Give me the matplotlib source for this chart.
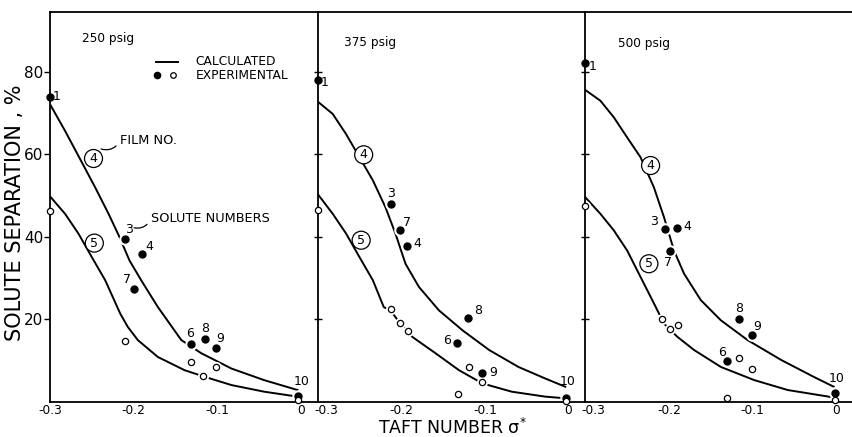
import numpy as np
import matplotlib
matplotlib.use('Agg')
import matplotlib.pyplot as plt

plt.rcParams['font.family'] = 'DejaVu Sans'

pressures = ['250 psig', '375 psig', '500 psig']
solutes = ['1', '3', '4', '7', '6', '8', '9', '10']

# taft numbers of the solutes, per panel (as plotted)
taft_250 = [-0.300, -0.210, -0.190, -0.200, -0.132, -0.115, -0.102, -0.003]
taft_375 = [-0.300, -0.212, -0.193, -0.201, -0.134, -0.120, -0.104, -0.003]
taft_500 = [-0.300, -0.205, -0.190, -0.199, -0.131, -0.116, -0.101, -0.001]

# experimental separation, film 4 (filled)
sep4_250 = [73.8, 39.4, 35.9, 27.5, 14.0, 15.2, 13.1, 1.5]
sep4_375 = [78.0, 47.9, 37.8, 41.7, 14.2, 20.4, 7.1, 0.9]
sep4_500 = [82.2, 41.8, 42.2, 36.6, 9.9, 20.0, 16.2, 2.3]

# experimental separation, film 5 (open)
x5_250 = [-0.300, -0.210, -0.132, -0.117, -0.102, -0.003]
y5_250 = [46.2, 14.7, 9.7, 6.3, 8.6, 0.5]
x5_375 = [-0.300, -0.212, -0.202, -0.192, -0.119, -0.104, -0.132, -0.003]
y5_375 = [46.6, 22.5, 19.2, 17.2, 8.5, 4.8, 1.9, 0.3]
x5_500 = [-0.300, -0.208, -0.199, -0.189, -0.116, -0.101, -0.131, -0.001]
y5_500 = [47.6, 20.0, 17.6, 18.6, 10.6, 8.1, 1.0, 0.5]

# calculated curves, film 4 and film 5
cx4_250 = [-0.299, -0.282, -0.262, -0.246, -0.230, -0.217, -0.205, -0.191, -0.171, -0.143, -0.119, -0.083, -0.044, -0.004]
cy4_250 = [71.8, 65.7, 58.1, 52.0, 45.6, 40.0, 34.3, 29.5, 23.0, 15.0, 11.8, 8.1, 5.3, 2.9]
cx5_250 = [-0.299, -0.282, -0.266, -0.250, -0.234, -0.224, -0.216, -0.207, -0.195, -0.171, -0.139, -0.115, -0.083, -0.044, -0.004]
cy5_250 = [49.6, 45.6, 40.8, 35.1, 29.5, 25.0, 21.4, 18.2, 15.0, 10.9, 7.7, 6.1, 4.1, 2.5, 1.3]

cx4_375 = [-0.300, -0.282, -0.266, -0.250, -0.234, -0.219, -0.207, -0.195, -0.179, -0.155, -0.127, -0.095, -0.060, -0.028, -0.004]
cy4_375 = [72.8, 69.8, 64.9, 59.3, 53.7, 47.2, 40.8, 33.5, 27.9, 22.2, 17.4, 12.6, 8.5, 5.7, 3.7]
cx5_375 = [-0.300, -0.282, -0.266, -0.250, -0.234, -0.221, -0.213, -0.202, -0.192, -0.187, -0.159, -0.131, -0.103, -0.068, -0.028, -0.004]
cy5_375 = [50.4, 45.6, 40.8, 35.1, 29.5, 23.0, 22.2, 19.2, 17.2, 15.8, 11.8, 7.7, 4.5, 2.5, 1.3, 0.9]

cx4_500 = [-0.300, -0.282, -0.266, -0.250, -0.234, -0.218, -0.206, -0.194, -0.182, -0.162, -0.138, -0.106, -0.066, -0.027, -0.003]
cy4_500 = [75.6, 73.0, 69.0, 64.1, 59.3, 52.0, 44.8, 36.7, 31.1, 24.7, 19.8, 15.0, 10.2, 6.1, 3.7]
cx5_500 = [-0.300, -0.282, -0.266, -0.250, -0.234, -0.218, -0.206, -0.190, -0.170, -0.138, -0.098, -0.058, -0.003]
cy5_500 = [49.6, 45.6, 41.6, 36.7, 30.3, 23.9, 19.0, 15.8, 12.6, 8.5, 5.3, 2.9, 1.1]

# offsets (points) for the solute number labels
lab_off_250 = [(4.5, 1), (3, 7), (5, 5), (-4.5, 6.5), (0, 7.5), (0, 7.5), (3, 7), (2, 10)]
lab_off_375 = [(5, -2), (0, 8), (7, 1.5), (5, 5.5), (-7, 2), (7, 5.5), (8, 0), (1, 12)]
lab_off_500 = [(5.5, -2.5), (-8, 5.5), (7.5, 1), (-1.5, -8), (-3, 6.5), (0, 8), (4, 6.5), (1, 10)]

circ4 = [(-0.248, 59.0), (-0.245, 59.9), (-0.222, 57.3)]
circ5 = [(-0.247, 38.5), (-0.248, 39.2), (-0.224, 33.5)]
title_pos = [(-0.262, 88.0), (-0.268, 87.1), (-0.261, 86.8)]

xtick_vals = [-0.3, -0.2, -0.1, 0]
xtick_text = ['-0.3', '-0.2', '-0.1', '0']
ytick_vals = [20, 40, 60, 80]

taft = [taft_250, taft_375, taft_500]
sep4 = [sep4_250, sep4_375, sep4_500]
x5 = [x5_250, x5_375, x5_500]
y5 = [y5_250, y5_375, y5_500]
cx4 = [cx4_250, cx4_375, cx4_500]
cy4 = [cy4_250, cy4_375, cy4_500]
cx5 = [cx5_250, cx5_375, cx5_500]
cy5 = [cy5_250, cy5_375, cy5_500]
lab_off = [lab_off_250, lab_off_375, lab_off_500]

fig = plt.figure(figsize=(8.53, 4.37), dpi=100)
gs = fig.add_gridspec(1, 3, left=50/853, right=1.0, top=1-12/437, bottom=1-402/437, wspace=0)
axes = [fig.add_subplot(gs[0, i]) for i in range(3)]

for i, ax in enumerate(axes):
    ax.plot(cx4[i], cy4[i], '-', color='black', linewidth=1.4, zorder=1)
    ax.plot(cx5[i], cy5[i], '-', color='black', linewidth=1.4, zorder=1)
    # white halos so the curves break around the points
    ax.plot(taft[i], sep4[i], 'o', color='white', markersize=8, zorder=2)
    ax.plot(x5[i], y5[i], 'o', color='white', markersize=7, zorder=2)
    ax.plot(taft[i], sep4[i], 'o', color='black', markersize=5, clip_on=False, zorder=3)
    ax.plot(x5[i], y5[i], 'o', markerfacecolor='white', markeredgecolor='black',
            markersize=4.5, markeredgewidth=0.9, clip_on=False, zorder=3)
    for j, s in enumerate(solutes):
        ax.annotate(s, (taft[i][j], sep4[i][j]), xytext=lab_off[i][j], textcoords='offset points',
                    ha='center', va='center', fontsize=9)
    for (cx, cy), num in [(circ4[i], '4'), (circ5[i], '5')]:
        ax.text(cx, cy, num, ha='center', va='center', fontsize=9, zorder=4,
                bbox=dict(boxstyle='circle,pad=0.2', facecolor='white', edgecolor='black', linewidth=0.9))
    ax.text(title_pos[i][0], title_pos[i][1], pressures[i], fontsize=8.7, ha='left', va='center')

    ax.set_xlim(-0.3, 0.02)
    ax.set_ylim(0, 94.5)
    ax.set_xticks(xtick_vals)
    ax.set_yticks(ytick_vals)
    ax.tick_params(axis='x', length=0, pad=1.5)
    ax.spines['right'].set_visible(False)
    for sp in ax.spines.values():
        sp.set_linewidth(1.3)
    if i == 0:
        ax.set_xticklabels(xtick_text, fontsize=8.8)
        ax.set_yticklabels([str(v) for v in ytick_vals], fontsize=11)
        ax.tick_params(axis='y', direction='out', length=4, width=1.0, pad=1)
    else:
        # "-0.3" sits a little right of the shared spine so it clears the "0"
        ax.set_xticklabels([''] + xtick_text[1:], fontsize=8.8)
        ax.annotate(xtick_text[0], xy=(xtick_vals[0], 0), xycoords=('data', 'axes fraction'),
                    xytext=(6, -1.5), textcoords='offset points', ha='center', va='top', fontsize=8.8)
        ax.tick_params(axis='y', direction='inout', length=6, width=1.0, labelleft=False)

ax = axes[0]
# legend drawn by hand
ax.plot([-0.1737, -0.1475], [82.4, 82.4], '-', color='black', linewidth=1.4)
ax.plot([-0.172], [79.2], 'o', color='black', markersize=4.5)
ax.plot([-0.153], [79.2], 'o', markerfacecolor='white', markeredgecolor='black', markersize=4, markeredgewidth=0.9)
ax.text(-0.126, 82.4, 'CALCULATED', fontsize=8.8, va='center')
ax.text(-0.126, 79.0, 'EXPERIMENTAL', fontsize=8.8, va='center')

ax.annotate('FILM NO.', xy=(-0.239, 61.3), xytext=(-0.2166, 63.3), fontsize=9.3, va='center',
            arrowprops=dict(arrowstyle='-', color='black', linewidth=0.9, connectionstyle='arc3,rad=-0.4',
                            shrinkA=1, shrinkB=0, relpos=(0, 0.5)))
ax.annotate('SOLUTE NUMBERS', xy=(-0.1995, 42.2), xytext=(-0.1796, 44.5), fontsize=9.3, va='center',
            arrowprops=dict(arrowstyle='-', color='black', linewidth=0.9, connectionstyle='arc3,rad=-0.4',
                            shrinkA=1, shrinkB=0, relpos=(0, 0.5)))

fig.text(15.5/853, 1-213/437, 'SOLUTE SEPARATION , %', fontsize=15, rotation=90, ha='center', va='center')
fig.text(452/853, 1-434/437, 'TAFT NUMBER σ$^{*}$', fontsize=12.5, ha='center', va='baseline')

plt.savefig('out.png', dpi=100)
